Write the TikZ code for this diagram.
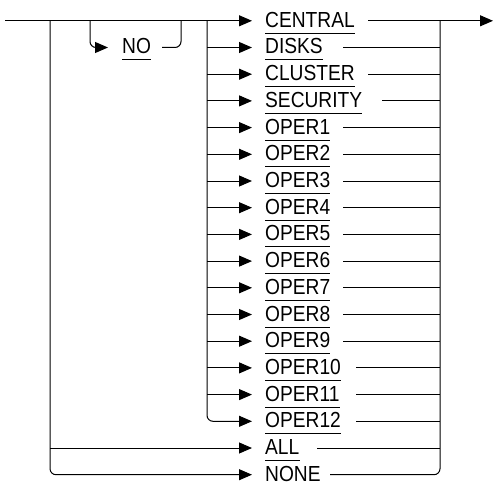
\documentclass[tikz,border=0pt]{standalone}
\usepackage{fontspec}
\setmainfont{Liberation Sans}
\usepackage{graphicx}
\usetikzlibrary{arrows.meta}
\newcommand\itm[1]{\scalebox{0.88}[1]{#1}}
\begin{document}
\begin{tikzpicture}[x=1pt,y=-1pt,
  rail/.style={draw=black, line width=1pt},
  arr/.style={rail,-{Triangle[length=13pt,width=11pt]}},
  rnd/.style={rounded corners=6pt},
  item/.style={inner sep=0pt, anchor=base west, font=\fontsize{21.8}{24}\selectfont},
  uline/.style={draw=black, line width=1pt}]
\useasboundingbox (0,0) rectangle (493,487);
% rows
\foreach \txt/\xe [count=\k from 0] in {CENTRAL/368, DISKS/343, CLUSTER/368, SECURITY/382,
  OPER1/343, OPER2/343, OPER3/343, OPER4/343, OPER5/343, OPER6/343, OPER7/343, OPER8/343, OPER9/343,
  OPER10/356, OPER11/356, OPER12/356, ALL/317, NONE/330}{
  \pgfmathsetmacro\yy{20.8+26.7*\k}
  \node[item] (r\k) at (265,\yy+6.5) {\itm{\txt}};
  \coordinate (L\k) at (207,\yy);
  \coordinate (A\k) at (50,\yy);
  \coordinate (H\k) at (252,\yy);
  \coordinate (E\k) at (\xe,\yy);
  \coordinate (R\k) at (440,\yy);
  \draw[uline] ([yshift=-6pt]r\k.base west) -- ([yshift=-6pt]r\k.base east);
}
\coordinate (S) at (5,20.8);
\coordinate (X) at (493,20.8);
% NO branch
\coordinate (N1) at (90,20.8);
\coordinate (N2) at (181,20.8);
\coordinate (NH) at (108,47.5);
\coordinate (NE) at (162,47.5);
\node[item] (no) at (122,54) {\itm{NO}};
\draw[uline] ([yshift=-6pt]no.base west) -- ([yshift=-6pt]no.base east);
\draw[arr,rnd] (N1) |- (NH);
\draw[rail,rnd] (NE) -| (N2);
% main line
\draw[arr] (S) -- (H0);
\draw[arr] (E0) -- (X);
% inner left rail
\draw[arr,rnd] (L0) |- (H15);
\foreach \k in {1,...,14} \draw[arr] (L\k) -- (H\k);
% outer left rail
\draw[arr,rnd] (A0) |- (H17);
\draw[arr] (A16) -- (H16);
% right rail
\draw[rail,rnd] (E17) -| (R0);
\foreach \k in {1,...,16} \draw[rail] (E\k) -- (R\k);
\end{tikzpicture}
\end{document}
